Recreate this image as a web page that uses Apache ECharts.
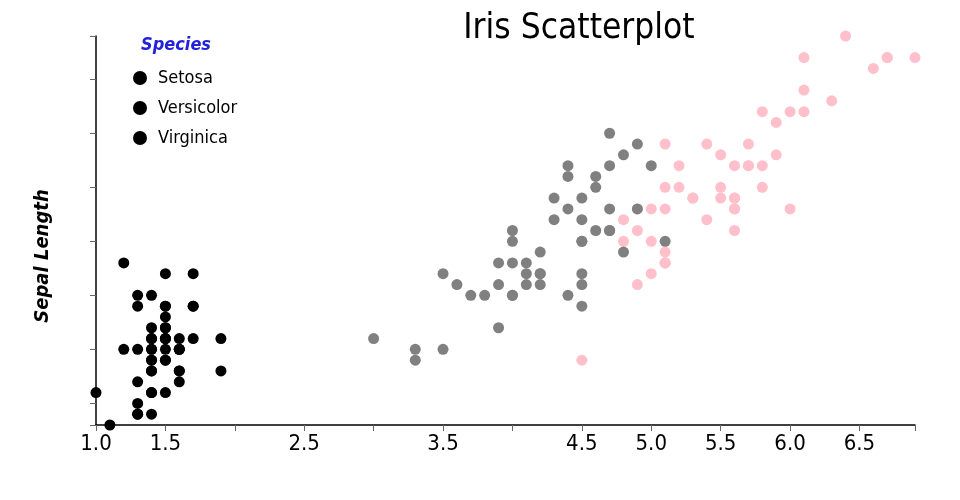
<!DOCTYPE html>
<html>
<head>
<meta charset="utf-8">
<script src="https://cdn.jsdelivr.net/npm/echarts@6/dist/echarts.min.js"></script>
<style>html,body{margin:0;padding:0;background:#fff}#c{width:960px;height:500px}</style>
</head>
<body>
<div id="c"></div>
<script>
// [petal length, sepal length]
var setosa = [[1.4,5.1],[1.4,4.9],[1.3,4.7],[1.5,4.6],[1.4,5.0],[1.7,5.4],[1.4,4.6],[1.5,5.0],[1.4,4.4],[1.5,4.9],
[1.5,5.4],[1.6,4.8],[1.4,4.8],[1.1,4.3],[1.2,5.8],[1.5,5.7],[1.3,5.4],[1.4,5.1],[1.7,5.7],[1.5,5.1],
[1.7,5.4],[1.5,5.1],[1.0,4.6],[1.7,5.1],[1.9,4.8],[1.6,5.0],[1.6,5.0],[1.5,5.2],[1.4,5.2],[1.6,4.7],
[1.6,4.8],[1.5,5.4],[1.5,5.2],[1.4,5.5],[1.5,4.9],[1.2,5.0],[1.3,5.5],[1.4,4.9],[1.3,4.4],[1.5,5.1],
[1.3,5.0],[1.3,4.5],[1.3,4.4],[1.6,5.0],[1.9,5.1],[1.4,4.8],[1.6,5.1],[1.4,4.6],[1.5,5.3],[1.4,5.0]];
var versicolor = [[4.7,7.0],[4.5,6.4],[4.9,6.9],[4.0,5.5],[4.6,6.5],[4.5,5.7],[4.7,6.3],[3.3,4.9],[4.6,6.6],[3.9,5.2],
[3.5,5.0],[4.2,5.9],[4.0,6.0],[4.7,6.1],[3.6,5.6],[4.4,6.7],[4.5,5.6],[4.1,5.8],[4.5,6.2],[3.9,5.6],
[4.8,5.9],[4.0,6.1],[4.9,6.3],[4.7,6.1],[4.3,6.4],[4.4,6.6],[4.8,6.8],[5.0,6.7],[4.5,6.0],[3.5,5.7],
[3.8,5.5],[3.7,5.5],[3.9,5.8],[5.1,6.0],[4.5,5.4],[4.5,6.0],[4.7,6.7],[4.4,6.3],[4.1,5.6],[4.0,5.5],
[4.4,5.5],[4.6,6.1],[4.0,5.8],[3.3,5.0],[4.2,5.6],[4.2,5.7],[4.2,5.7],[4.3,6.2],[3.0,5.1],[4.1,5.7]];
var virginica = [[6.0,6.3],[5.1,5.8],[5.9,7.1],[5.6,6.3],[5.8,6.5],[6.6,7.6],[4.5,4.9],[6.3,7.3],[5.8,6.7],[6.1,7.2],
[5.1,6.5],[5.3,6.4],[5.5,6.8],[5.0,5.7],[5.1,5.8],[5.3,6.4],[5.5,6.5],[6.7,7.7],[6.9,7.7],[5.0,6.0],
[5.7,6.9],[4.9,5.6],[6.7,7.7],[4.9,6.3],[5.7,6.7],[6.0,7.2],[4.8,6.2],[4.9,6.1],[5.6,6.4],[5.8,7.2],
[6.1,7.4],[6.4,7.9],[5.6,6.4],[5.1,6.3],[5.6,6.1],[6.1,7.7],[5.6,6.3],[5.5,6.4],[4.8,6.0],[5.4,6.9],
[5.6,6.7],[5.1,6.9],[5.1,5.8],[5.9,6.8],[5.7,6.7],[5.2,6.7],[5.0,6.3],[5.2,6.5],[5.4,6.2],[5.1,5.9]];
var xTicks = [1.0,1.5,2.0,2.5,3.0,3.5,4.0,4.5,5.0,5.5,6.0,6.5,6.9];
var xLabels = [1.0,1.5,2.5,3.5,4.5,5.0,5.5,6.0,6.5];
var yTicks = [4.3,4.5,5.0,5.5,6.0,6.5,7.0,7.5,7.9];

var FONT = '"Liberation Sans Narrow","DejaVu Sans Condensed",sans-serif';
var chart = echarts.init(document.getElementById('c'), null, {renderer:'canvas'});
chart.setOption({
  animation:false,
  textStyle:{fontFamily:FONT},
  title:[
    {text:'Iris Scatterplot', left:574, top:6, textAlign:'center',
     textStyle:{fontFamily:FONT, fontSize:35, fontWeight:'normal', color:'#000'}},
    {text:'Species', left:136, top:31,
     textStyle:{fontFamily:FONT, fontSize:18, fontWeight:'bold', fontStyle:'italic', color:'#2222dd'}}
  ],
  legend:{
    orient:'vertical', left:128, top:64, itemGap:12, itemWidth:14, itemHeight:14,
    icon:'circle', selectedMode:false,
    textStyle:{fontFamily:FONT, fontSize:18, color:'#000', padding:[0,0,0,6]},
    data:[{name:'Setosa', itemStyle:{color:'#000'}},{name:'Versicolor', itemStyle:{color:'#000'}},{name:'Virginica', itemStyle:{color:'#000'}}]
  },
  graphic:[{
    type:'text', x:43, y:256, rotation:Math.PI/2,
    style:{text:'Sepal Length', fontFamily:FONT, fontSize:20, fontWeight:'bold', fontStyle:'italic',
      fill:'#000', align:'center', verticalAlign:'middle'}
  }],
  grid:{left:96, right:45, top:36, bottom:75, containLabel:false},
  xAxis:{
    type:'value', min:1.0, max:6.9, splitLine:{show:false},
    axisLine:{show:true, onZero:false, lineStyle:{color:'#000', width:1.5}},
    axisTick:{show:true, length:6, customValues:xTicks, lineStyle:{color:'#666'}},
    axisLabel:{customValues:xLabels, fontFamily:FONT, fontSize:22, color:'#000', margin:8,
      formatter:function(v){return (+v).toFixed(1);}}
  },
  yAxis:{
    type:'value', min:4.3, max:7.9, splitLine:{show:false},
    axisLine:{show:true, onZero:false, lineStyle:{color:'#000', width:1.5}},
    axisTick:{show:true, length:6, customValues:yTicks, lineStyle:{color:'#666'}},
    axisLabel:{show:false}
  },
  series:[
    {name:'Setosa', type:'scatter', data:setosa, symbolSize:11, itemStyle:{color:'#000', opacity:1}},
    {name:'Virginica', type:'scatter', data:virginica, symbolSize:11, itemStyle:{color:'#ffc0cb', opacity:1}},
    {name:'Versicolor', type:'scatter', data:versicolor, symbolSize:11, itemStyle:{color:'#808080', opacity:1}}
  ]
});
</script>
</body>
</html>
